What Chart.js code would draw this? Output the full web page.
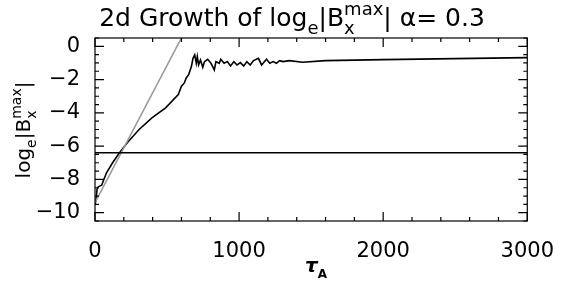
<!DOCTYPE html>
<html>
<head>
<meta charset="utf-8">
<script src="https://cdn.jsdelivr.net/npm/chart.js@4/dist/chart.umd.min.js"></script>
<style>
  html, body { margin: 0; padding: 0; background: #fff; }
  #box { width: 564px; height: 289px; }
</style>
</head>
<body>
<div id="box"><canvas id="growthChart"></canvas></div>
<script>
// time in Alfven units, log_e |Bx max|
const tau = [0, 8, 14, 22, 46, 80, 122, 170, 224, 306, 395, 490, 578, 600, 620, 633, 650,
  669, 680, 692, 703, 710, 719, 732, 748, 760, 782, 805, 828, 839, 862, 873, 896, 918,
  941, 964, 986, 1009, 1032, 1054, 1077, 1100, 1134, 1156, 1190, 1213, 1236, 1259, 1281,
  1304, 1349, 1440, 1600, 2000, 2500, 3000];
const logB = [-9.5, -9.2, -8.6, -8.45, -8.35, -7.6, -7.0, -6.4, -5.8, -5.0, -4.3, -3.7, -2.9, -2.4, -2.2, -1.9, -1.7,
  -1.22, -0.72, -0.52, -1.02, -0.62, -1.12, -0.82, -1.26, -0.92, -0.78, -1.02, -1.42, -0.92, -1.02, -0.78, -1.02, -0.92,
  -1.18, -0.92, -1.12, -0.98, -1.18, -0.92, -1.12, -0.86, -0.72, -1.12, -0.78, -1.02, -0.92, -1.02, -0.86,
  -0.92, -0.86, -0.96, -0.86, -0.80, -0.74, -0.68];

// linear growth fit (grey)
const fitTau = [0, 600];
const fitLogB = [-9.4, 0.5];

// horizontal reference level
const levelTau = [0, 3000];
const levelLogB = [-6.4, -6.4];

const xTicks = [0, 1000, 2000, 3000];
const yTicks = [-10, -8, -6, -4, -2, 0];
const xMinorStep = 200;
const yMinorStep = 0.5;

const FONT = "'DejaVu Sans'";

function pts(xs, ys) {
  return xs.map((x, i) => ({ x: x, y: ys[i] }));
}

// draw text pieces with sub/superscripts, centred on x
function drawRich(ctx, parts, x, y, size) {
  const widthOf = p => {
    ctx.font = (p.style || "") + " " + Math.round(size * (p.scale || 1)) + "px " + FONT;
    return ctx.measureText(p.t).width;
  };
  let total = 0;
  parts.forEach(p => {
    if (p.stack) total += Math.max(...p.stack.map(widthOf));
    else total += widthOf(p);
  });
  let cx = x - total / 2;
  ctx.textBaseline = "alphabetic";
  ctx.textAlign = "left";
  const put = p => {
    ctx.font = (p.style || "") + " " + Math.round(size * (p.scale || 1)) + "px " + FONT;
    ctx.fillText(p.t, cx, y + (p.dy || 0) * size);
    return ctx.measureText(p.t).width;
  };
  parts.forEach(p => {
    if (p.stack) cx += Math.max(...p.stack.map(put));
    else cx += put(p);
  });
}

const framePlugin = {
  id: "frame",
  afterDraw(chart) {
    const ctx = chart.ctx;
    const a = chart.chartArea;
    const xs = chart.scales.x, ys = chart.scales.y;
    ctx.save();
    ctx.strokeStyle = "#000";
    ctx.lineWidth = 1.2;
    ctx.strokeRect(a.left, a.top, a.right - a.left, a.bottom - a.top);
    ctx.beginPath();
    for (let v = xs.min; v <= xs.max + 1e-6; v += xMinorStep) {
      const px = xs.getPixelForValue(v);
      const len = xTicks.includes(v) ? 9 : 4;
      ctx.moveTo(px, a.bottom); ctx.lineTo(px, a.bottom - len);
      ctx.moveTo(px, a.top); ctx.lineTo(px, a.top + len);
    }
    for (let v = -10.5; v <= 0.5 + 1e-6; v += yMinorStep) {
      const py = ys.getPixelForValue(v);
      const len = yTicks.includes(v) ? 9 : 4;
      ctx.moveTo(a.left, py); ctx.lineTo(a.left + len, py);
      ctx.moveTo(a.right, py); ctx.lineTo(a.right - len, py);
    }
    ctx.stroke();

    ctx.fillStyle = "#000";
    // title
    drawRich(ctx, [
      { t: "2d Growth of log" },
      { t: "e", scale: 0.7, dy: 0.3 },
      { t: "|B" },
      { stack: [{ t: "x", scale: 0.7, dy: 0.3 }, { t: "max", scale: 0.7, dy: -0.45 }] },
      { t: "| α= 0.3" }
    ], 292, 26, 25);
    // x title
    drawRich(ctx, [
      { t: "τ", style: "bold italic" },
      { t: "A", scale: 0.6, dy: 0.3, style: "bold" }
    ], 316, 272, 20);
    // y title
    ctx.translate(30, 130);
    ctx.rotate(-Math.PI / 2);
    drawRich(ctx, [
      { t: "log" },
      { t: "e", scale: 0.7, dy: 0.3 },
      { t: "|B" },
      { stack: [{ t: "x", scale: 0.7, dy: 0.3 }, { t: "max", scale: 0.7, dy: -0.45 }] },
      { t: "|" }
    ], 0, 0, 20);
    ctx.restore();
  }
};

new Chart(document.getElementById("growthChart").getContext("2d"), {
  type: "scatter",
  data: {
    datasets: [
      {
        data: pts(levelTau, levelLogB),
        showLine: true,
        borderColor: "#000",
        borderWidth: 1.6,
        pointRadius: 0
      },
      {
        data: pts(fitTau, fitLogB),
        showLine: true,
        borderColor: "#999",
        borderWidth: 1.6,
        pointRadius: 0
      },
      {
        data: pts(tau, logB),
        showLine: true,
        borderColor: "#000",
        borderWidth: 1.6,
        pointRadius: 0
      }
    ]
  },
  options: {
    responsive: true,
    maintainAspectRatio: false,
    animation: false,
    layout: { padding: { top: 38, right: 28, left: 0, bottom: 0 } },
    plugins: {
      legend: { display: false },
      tooltip: { enabled: false }
    },
    scales: {
      x: {
        type: "linear",
        min: 0,
        max: 3000,
        grid: { display: false },
        border: { display: false },
        afterBuildTicks: s => { s.ticks = xTicks.map(v => ({ value: v })); },
        afterFit: s => { s.height = 68; },
        ticks: {
          padding: 10,
          maxRotation: 0,
          color: "#000",
          font: { family: FONT, size: 21 },
          callback: v => String(v)
        }
      },
      y: {
        type: "linear",
        min: -10.5,
        max: 0.5,
        grid: { display: false },
        border: { display: false },
        afterBuildTicks: s => { s.ticks = yTicks.map(v => ({ value: v })); },
        afterFit: s => { s.width = 95; },
        ticks: {
          padding: 7,
          color: "#000",
          font: { family: FONT, size: 21 },
          callback: v => String(v).replace("-", "\u2212")
        }
      }
    }
  },
  plugins: [framePlugin]
});
</script>
</body>
</html>
